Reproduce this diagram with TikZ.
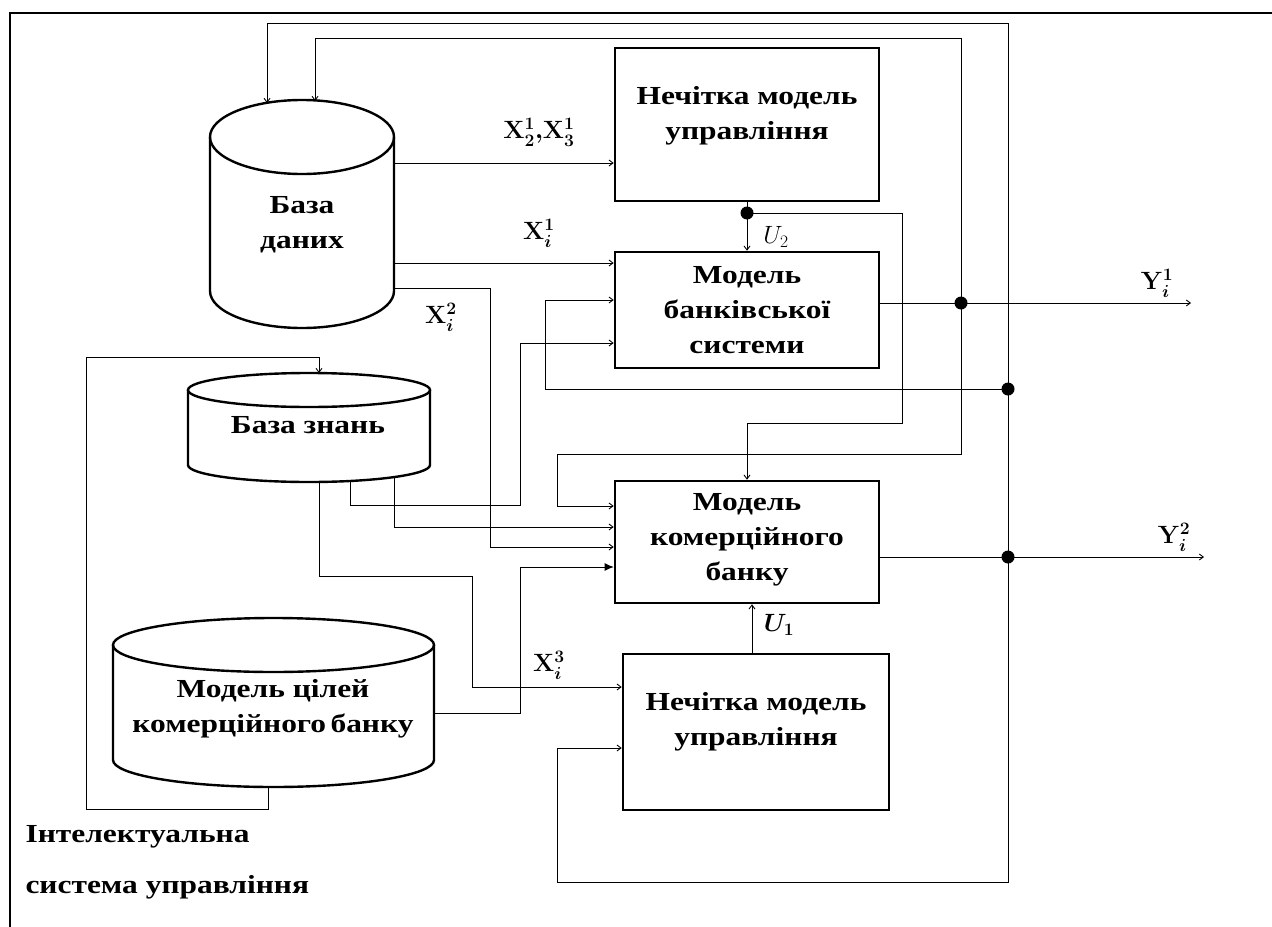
\RequirePackage{fix-cm}
\documentclass[tikz,border=0pt]{standalone}
\usepackage{fontspec}
\setmainfont{Liberation Serif}
\newfontfamily\widefont[FakeStretch=1.21]{Liberation Serif}
\usetikzlibrary{arrows.meta,calc}
\begin{document}
\begin{tikzpicture}[x=1bp,y=-1bp,
  box/.style={draw, line width=2.6bp, minimum width=264bp, inner sep=0pt},
  body/.style={draw=none, inner sep=0pt},
  cyl/.style={line width=2.4bp},
  ln/.style={line width=0.9bp},
  arr/.style={ln, -{Straight Barb[length=4bp,width=6bp]}},
  bigarr/.style={ln, -{Latex[length=9bp,width=8bp]}},
  dot/.style={circle, fill, inner sep=0pt, minimum size=13bp},
  txt/.style={font=\widefont\bfseries\fontsize{26bp}{35bp}\selectfont, align=center},
  lab/.style={font=\fontsize{25bp}{28bp}\selectfont\boldmath},
  frame/.style={line width=2.6bp}]
\useasboundingbox (0,0) rectangle (1272,927);
% frame
\draw[frame] (10,927) -- (10,13) -- (1272,13);
% boxes
\node[box, minimum height=153bp] (nmu1) at (747,124.5) {};
\node[box, minimum height=116bp] (mbs) at (747,310) {};
\node[box, minimum height=122bp] (mkb) at (747,542) {};
\node[box, minimum width=266bp, minimum height=156bp] (nmu2) at (756,732) {};
\node[txt] (nmu1t) at (747,116) {Нечітка модель\\управління};
\node[txt] (mbst) at (747,310) {Модель\\банківської\\системи};
\node[txt] (mkbt) at (747,540) {Модель\\комерційного\\банку};
\node[txt] (nmu2t) at (756,721.5) {Нечітка модель\\управління};
% cylinders
\draw[cyl] (302,137) ellipse [x radius=92bp, y radius=37bp];
\draw[cyl] (210,137) -- (210,291) arc[start angle=180, end angle=360, x radius=92bp, y radius=37bp] -- (394,137);
\node[body, minimum width=184bp, minimum height=154bp] (db) at (302,214) {};
\node[txt] (dbt) at (302,224.5) {База\\даних};
\draw[cyl] (309,390) ellipse [x radius=121bp, y radius=17bp];
\draw[cyl] (188,390) -- (188,465) arc[start angle=180, end angle=360, x radius=121bp, y radius=17bp] -- (430,390);
\node[body, minimum width=242bp, minimum height=75bp] (bz) at (309,427.5) {};
\node[txt] (bzt) at (308,425) {База знань};
\draw[cyl] (273.5,645) ellipse [x radius=160.5bp, y radius=27bp];
\draw[cyl] (113,645) -- (113,760) arc[start angle=180, end angle=360, x radius=160.5bp, y radius=27bp] -- (434,645);
\node[body, minimum width=321bp, minimum height=115bp] (goal) at (273.5,702.5) {};
\node[txt] (goalt) at (273,708.5) {Модель цілей\\комерційного\,банку};
% named points on cylinder outlines
\coordinate (dba) at (267,103);
\coordinate (dbb) at (315,101);
\coordinate (bzo1) at (350,481);
\coordinate (bzo2) at (394,477);
\coordinate (bzo3) at (319,482);
\coordinate (bztop) at (319,373);
\coordinate (goalb) at (268,787);
% junctions and free ends
\coordinate (j1) at (961,303);
\coordinate (j2) at (1008,557);
\coordinate (j3) at (1008,389);
\coordinate (j4) at (747,213);
\coordinate (y1) at (1191,303);
\coordinate (y2) at (1204,557);
% outputs
\draw[arr] (mbs.east |- j1) -- (y1);
\draw[arr] (mkb.east |- j2) -- (y2);
% control U2
\draw[arr] (nmu1.south) -- (mbs.north);
\draw[arr] (j4) -| (902,423) -| (mkb.north);
% feedback A (x=1008)
\draw[arr] (j2) -- (1008,23) -| (dba);
\draw[arr] (j2) |- (557,882) |- (nmu2.west |- 0,748);
\draw[arr] (j3) -- (545,389) |- (mbs.west |- 0,300);
% feedback B (x=961)
\draw[arr] (j1) -- (961,38) -| (dbb);
\draw[arr] (j1) |- (557,454) |- (mkb.west |- 0,506);
% database outputs
\draw[arr] (db.east |- 0,163) -- (nmu1.west |- 0,163);
\draw[arr] (db.east |- 0,263) -- (mbs.west |- 0,263);
\draw[arr] (db.east |- 0,288) -| (490,547) -- (mkb.west |- 0,547);
% knowledge base outputs
\draw[arr] (bzo1) |- (520,505) |- (mbs.west |- 0,343);
\draw[arr] (bzo2) |- (mkb.west |- 0,527);
\draw[arr] (bzo3) |- (472,576) |- (nmu2.west |- 0,687);
% goals
\draw[bigarr] (goal.east |- 0,713) -| (520,567) -- (mkb.west |- 0,567);
\draw[arr] (goalb) |- (86,809) |- (319,357) -- (bztop);
% U1
\draw[arr] (nmu2.north -| 752,0) -- (mkb.south -| 752,0);
% dots
\node[dot] at (j1) {};
\node[dot] at (j2) {};
\node[dot] at (j3) {};
\node[dot] at (j4) {};
% labels
\node[lab] (l1) at (539,132) {$\mathbf{X}_2^1{,}\mathbf{X}_3^1$};
\node[lab] (l2) at (539,233) {$\mathbf{X}_i^1$};
\node[lab] (l3) at (441,317) {$\mathbf{X}_i^2$};
\node[lab] (l4) at (549,665) {$\mathbf{X}_i^3$};
\node[font=\fontsize{25bp}{28bp}\selectfont] (l5) at (776,237) {$U_2$};
\node[lab] (l6) at (779,625) {$U_1$};
\node[lab] (l7) at (1157,283) {$\mathbf{Y}_i^1$};
\node[lab] (l8) at (1174,537) {$\mathbf{Y}_i^2$};
\node[txt, anchor=west] (t1) at (22,837) {Інтелектуальна};
\node[txt, anchor=west] (t2) at (22,887) {система управління};
\end{tikzpicture}
\end{document}
